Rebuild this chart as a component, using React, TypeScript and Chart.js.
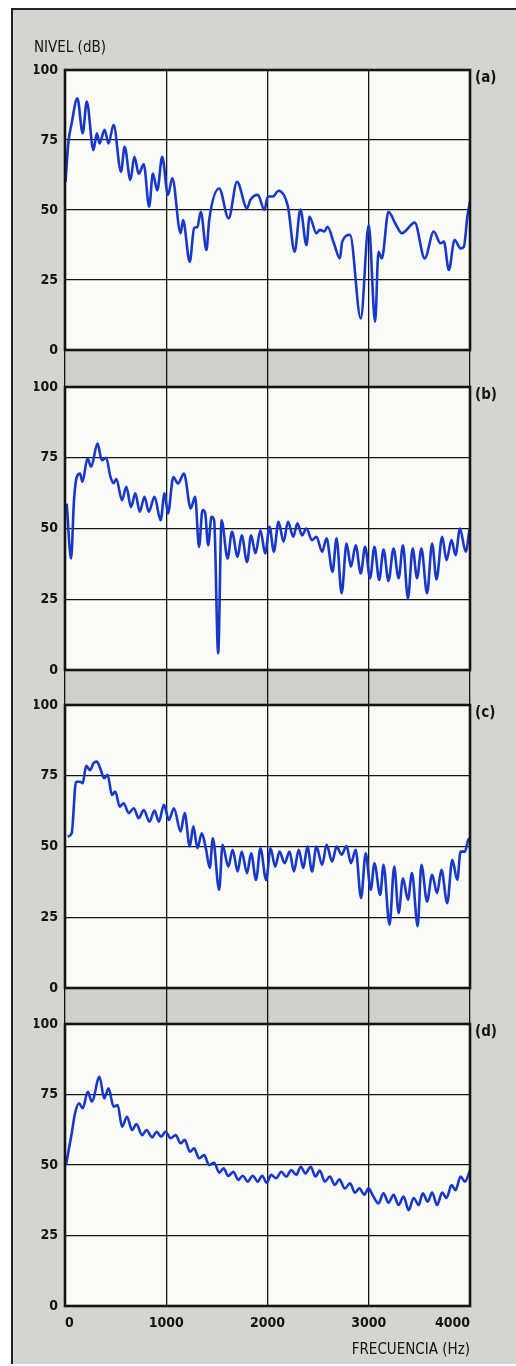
import React, { useEffect, useRef } from "react";
import { Chart, registerables } from "chart.js";

Chart.register(...registerables);

const FONT = "'DejaVu Sans Condensed', 'DejaVu Sans', 'Liberation Sans', sans-serif";
const BLUE = "#1838c8";
const INK = "#141414";

// Axis ticks
const xTicks = [0, 1000, 2000, 3000, 4000];
const yTicks = [0, 25, 50, 75, 100];
const panelLabels = ["(a)", "(b)", "(c)", "(d)"];
const yTitle = "NIVEL (dB)";
const xTitle = "FRECUENCIA (Hz)";

// Panel (a)
const freqA = [5, 33, 66, 122, 175, 215, 281, 315, 341, 391, 430, 480, 553, 589, 646, 685, 728, 778, 831, 868, 911, 960, 1017, 1060, 1142, 1166, 1232, 1275, 1308, 1341, 1397, 1424, 1523, 1616, 1699, 1798, 1831, 1904, 1970, 2003, 2053, 2109, 2202, 2268, 2325, 2385, 2415, 2483, 2517, 2560, 2593, 2656, 2715, 2738, 2815, 2921, 3000, 3063, 3096, 3129, 3195, 3262, 3328, 3454, 3553, 3642, 3709, 3742, 3791, 3848, 3907, 3940, 3974, 4000];
const levelA = [60, 74, 81, 89.9, 77.4, 88.7, 71.4, 77.4, 73.8, 78.6, 73.8, 80.4, 63.7, 72.6, 60.7, 69, 63, 66.3, 51.2, 63, 57, 69, 55.4, 61.3, 41.7, 46.4, 31.5, 43.5, 44, 49.4, 35.7, 46.4, 57.7, 47, 60.1, 50.6, 53.6, 55.4, 50, 54.8, 54.8, 56.9, 51.2, 35.1, 50.2, 37.5, 47.6, 41.7, 42.9, 42.3, 44, 38.1, 32.7, 38.7, 41.1, 11.3, 44.6, 10.1, 35.1, 32.7, 49.4, 45.2, 41.7, 45.5, 32.7, 42.3, 38.1, 38.7, 28.6, 39.3, 36.3, 36.9, 47.6, 53];

// Panel (b)
const freqB = [17, 60, 89, 116, 149, 172, 222, 258, 321, 364, 407, 447, 480, 507, 563, 606, 652, 695, 738, 785, 828, 884, 944, 983, 1017, 1070, 1116, 1175, 1242, 1285, 1324, 1358, 1384, 1414, 1447, 1473, 1513, 1546, 1606, 1649, 1705, 1745, 1798, 1838, 1881, 1930, 1977, 2020, 2063, 2109, 2159, 2202, 2255, 2295, 2341, 2384, 2440, 2483, 2540, 2583, 2642, 2682, 2732, 2781, 2824, 2871, 2921, 2964, 3013, 3056, 3103, 3146, 3195, 3245, 3295, 3338, 3387, 3434, 3477, 3520, 3576, 3626, 3669, 3725, 3768, 3818, 3857, 3901, 3957, 3997];
const levelB = [58.8, 39.4, 60, 68.2, 69.4, 66.5, 74.7, 71.8, 80, 74.1, 75, 68.5, 66, 67.5, 60, 64.7, 57.6, 62.4, 55.9, 61.2, 55.9, 61.2, 52.9, 62.4, 55.3, 68.2, 65.9, 69.4, 57.1, 61.2, 43.5, 56.5, 55.5, 44.1, 54.1, 52.9, 5.9, 52.9, 39.4, 48.8, 40, 47.6, 38.2, 47.6, 41.2, 49.4, 41.2, 50.6, 41.8, 52.4, 45.3, 52.4, 47.1, 51.8, 47.6, 50, 45.9, 47.1, 41.8, 46.5, 34.7, 46.5, 27.1, 44.7, 36.5, 44.1, 34.1, 43.5, 32.4, 43.5, 31.8, 42.6, 31.5, 42.9, 32.4, 44.1, 25.3, 42.9, 32.4, 42.9, 27.1, 44.7, 32, 47.1, 38.8, 45.9, 40.6, 50, 41.8, 50];

// Panel (c)
const freqC = [26, 66, 109, 149, 175, 209, 248, 281, 315, 348, 387, 421, 464, 497, 540, 579, 629, 679, 728, 778, 834, 884, 927, 977, 1026, 1076, 1142, 1182, 1232, 1268, 1308, 1351, 1391, 1430, 1460, 1523, 1556, 1613, 1656, 1705, 1745, 1798, 1838, 1887, 1930, 1987, 2030, 2076, 2119, 2169, 2218, 2261, 2308, 2354, 2394, 2440, 2483, 2540, 2583, 2639, 2682, 2732, 2781, 2824, 2871, 2924, 2970, 3020, 3056, 3113, 3146, 3205, 3252, 3295, 3338, 3387, 3427, 3483, 3520, 3576, 3626, 3675, 3718, 3775, 3825, 3874, 3907, 3950, 3983, 4000];
const levelC = [53.5, 54.7, 72.9, 72.9, 72.4, 78.5, 77, 79.4, 80, 77.6, 74.1, 75.3, 68.2, 69.4, 64.1, 65.3, 61.8, 63.5, 60, 62.9, 58.8, 62.7, 58.8, 64.7, 59.4, 63.5, 55.3, 61.8, 50, 57.1, 49.4, 54.7, 49.4, 42.4, 52.9, 34.7, 50.6, 42.9, 48.8, 41.2, 48.2, 40.6, 47.6, 38.2, 49.4, 38.2, 49.4, 42.9, 48.2, 44.1, 48.2, 41.2, 48.8, 42.4, 50, 41.2, 50, 43.5, 50.6, 44.7, 50, 47.1, 50.2, 44.1, 48.8, 31.8, 47.6, 34.7, 44.1, 32.9, 43.5, 22.4, 42.9, 26.5, 38.8, 31.2, 40.6, 21.8, 43.5, 30.6, 40, 33.5, 41.8, 30, 45.3, 38.2, 48.2, 48.2, 52.4, 52.9];

// Panel (d)
const freqD = [10, 66, 99, 139, 175, 225, 265, 341, 387, 430, 480, 520, 563, 613, 662, 705, 762, 805, 861, 904, 950, 993, 1043, 1093, 1142, 1182, 1235, 1275, 1324, 1374, 1424, 1473, 1523, 1566, 1613, 1662, 1712, 1755, 1805, 1854, 1904, 1947, 1993, 2036, 2086, 2136, 2185, 2235, 2285, 2328, 2374, 2427, 2473, 2517, 2566, 2616, 2665, 2709, 2765, 2815, 2864, 2907, 2957, 2997, 3046, 3096, 3146, 3195, 3245, 3295, 3344, 3394, 3444, 3493, 3533, 3583, 3626, 3675, 3725, 3768, 3818, 3857, 3907, 3950, 4000];
const levelD = [50, 61.2, 68.3, 71.9, 70.1, 76, 72.5, 81.3, 73.6, 77.2, 70.7, 71.3, 63.6, 67.1, 62.4, 64.5, 60.6, 62.4, 59.8, 61.8, 60, 61.8, 59.5, 60.6, 57.7, 58.9, 54.7, 55.9, 52.4, 53.5, 50, 50.8, 47.3, 48.8, 46.1, 47.6, 44.7, 46.2, 44.1, 46.2, 44.1, 46.2, 43.7, 46.5, 45.3, 47.6, 45.9, 48.2, 46.5, 49.4, 47, 49.4, 45.9, 48, 44.1, 45.9, 42.9, 44.9, 41.7, 43.5, 40.2, 41.7, 39.5, 41.7, 38.8, 36.4, 40, 36.6, 39.4, 35.8, 38.8, 34, 38.3, 35.8, 40, 37, 40.2, 35.8, 40.2, 38.3, 42.9, 41.1, 45.9, 44.1, 48];

type PanelCfg = {
  top: number;
  height: number;
  band: number;
  first: boolean;
  last: boolean;
  label: string;
  freq: number[];
  level: number[];
};

const panels: PanelCfg[] = [
  { top: 20, height: 367, band: 37, first: true, last: false, label: panelLabels[0], freq: freqA, level: levelA },
  { top: 367, height: 338, band: 35, first: false, last: false, label: panelLabels[1], freq: freqB, level: levelB },
  { top: 685, height: 339, band: 36, first: false, last: false, label: panelLabels[2], freq: freqC, level: levelC },
  { top: 1004, height: 357, band: 0, first: false, last: true, label: panelLabels[3], freq: freqD, level: levelD },
];

const decor = {
  id: "panelDecor",
  beforeDraw(chart: any, _args: any, opts: any) {
    const { ctx, chartArea: a } = chart;
    ctx.save();
    ctx.fillStyle = "#fafaf6";
    ctx.fillRect(a.left, a.top, a.right - a.left, a.bottom - a.top);
    if (opts.band > 0) {
      ctx.fillStyle = "#cfcfcb";
      ctx.fillRect(a.left, a.bottom, a.right - a.left, opts.band);
    }
    ctx.restore();
  },
  afterDraw(chart: any, _args: any, opts: any) {
    const { ctx, chartArea: a } = chart;
    ctx.save();
    ctx.strokeStyle = INK;
    ctx.lineWidth = 2.6;
    ctx.strokeRect(a.left, a.top, a.right - a.left, a.bottom - a.top);
    ctx.fillStyle = INK;
    ctx.font = `bold 15px ${FONT}`;
    ctx.textAlign = "left";
    ctx.textBaseline = "middle";
    ctx.fillText(opts.label, a.right + 5, a.top + 8);
    ctx.restore();
  },
};

function makeConfig(p: PanelCfg): any {
  const data = p.freq.map((f, i) => ({ x: f, y: p.level[i] }));
  const tickFont = { family: FONT, size: 14, weight: "bold" };
  return {
    type: "line",
    data: {
      datasets: [
        {
          data,
          borderColor: BLUE,
          borderWidth: 2.6,
          pointRadius: 0,
          fill: false,
          cubicInterpolationMode: "monotone",
        },
      ],
    },
    options: {
      animation: false,
      responsive: false,
      maintainAspectRatio: false,
      layout: { padding: { left: 34, right: 46, top: p.first ? 0 : 20, bottom: 0 } },
      plugins: {
        legend: { display: false },
        tooltip: { enabled: false },
        title: p.first
          ? {
              display: true,
              text: yTitle,
              align: "start",
              color: INK,
              font: { family: FONT, size: 15, weight: "normal", lineHeight: 1.2 },
              padding: { top: 19, bottom: 13 },
            }
          : { display: false },
        panelDecor: { label: p.label, band: p.band },
      },
      scales: {
        x: {
          type: "linear",
          min: 0,
          max: 4000,
          afterBuildTicks: (s: any) => {
            s.ticks = xTicks.map((v) => ({ value: v }));
          },
          afterFit: (s: any) => {
            s.height = p.last ? 55 : p.band;
          },
          border: { display: false },
          grid: {
            color: INK,
            lineWidth: 1.3,
            drawTicks: !p.last,
            tickLength: p.band,
            tickColor: INK,
            tickWidth: 1.3,
          },
          ticks: {
            display: p.last,
            align: "inner",
            padding: 9,
            color: INK,
            font: tickFont,
            maxRotation: 0,
            autoSkip: false,
            callback: (v: any) => String(v),
          },
          title: p.last
            ? {
                display: true,
                text: xTitle,
                align: "end",
                color: INK,
                font: { family: FONT, size: 15, weight: "normal" },
                padding: { top: 4, bottom: 2 },
              }
            : { display: false },
        },
        y: {
          min: 0,
          max: 100,
          afterBuildTicks: (s: any) => {
            s.ticks = yTicks.map((v) => ({ value: v }));
          },
          afterFit: (s: any) => {
            s.width = 31;
          },
          border: { display: false },
          grid: { color: INK, lineWidth: 1.3, drawTicks: false },
          ticks: { padding: 7, color: INK, font: tickFont, callback: (v: any) => String(v) },
        },
      },
    },
    plugins: [decor],
  };
}

function Panel({ cfg }: { cfg: PanelCfg }) {
  const ref = useRef<HTMLCanvasElement | null>(null);
  useEffect(() => {
    if (!ref.current) return;
    const chart = new Chart(ref.current, makeConfig(cfg));
    return () => chart.destroy();
  }, [cfg]);
  return (
    <canvas
      ref={ref}
      width={516}
      height={cfg.height}
      style={{ position: "absolute", left: 0, top: cfg.top, width: 516, height: cfg.height }}
    />
  );
}

export default function App() {
  return (
    <div style={{ position: "absolute", left: 0, top: 0, width: 516, height: 1366, background: "#ffffff", overflow: "hidden" }}>
      <div
        style={{
          position: "absolute",
          left: 11,
          top: 8,
          width: 505,
          height: 1356,
          background: "#d4d4d0",
          borderLeft: "2px solid #222",
          borderTop: "2px solid #222",
          boxSizing: "border-box",
        }}
      />
      {panels.map((p) => (
        <Panel key={p.label} cfg={p} />
      ))}
    </div>
  );
}
